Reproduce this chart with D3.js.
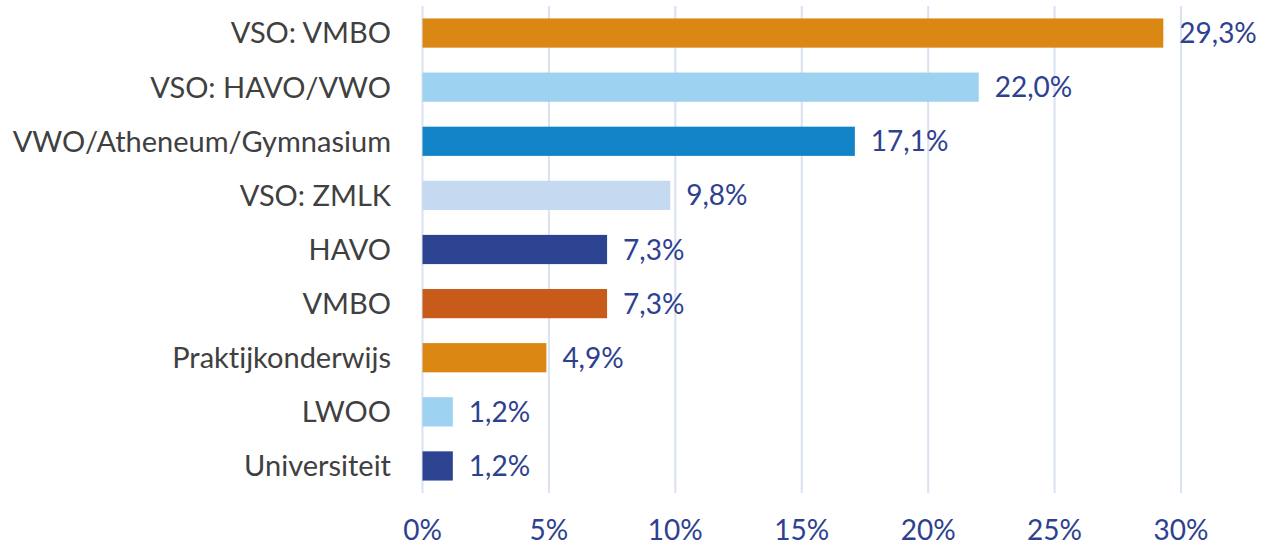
<!DOCTYPE html>
<html><head><meta charset="utf-8">
<script src="https://cdn.jsdelivr.net/npm/d3@7"></script>
<style>body{margin:0;background:#fff}svg{display:block}text{font-variant-ligatures:none;font-feature-settings:"liga" 0}</style>
</head><body>
<svg id="c" width="1273" height="546"></svg>
<script>
const categories = ["VSO: VMBO","VSO: HAVO/VWO","VWO/Atheneum/Gymnasium","VSO: ZMLK","HAVO","VMBO","Praktijkonderwijs","LWOO","Universiteit"];
const values = [29.3, 22.0, 17.1, 9.8, 7.3, 7.3, 4.9, 1.2, 1.2];
const colors = ["#db8713","#9dd3f0","#1283c6","#c5d9f0","#2c4392","#c95b1a","#db8713","#9dd3f0","#2c4392"];
const ticks = [0,5,10,15,20,25,30];

const svg = d3.select("#c");
const x = d3.scaleLinear().domain([0,30]).range([422.5,1181]);
const y = d3.scaleBand().domain(categories).range([6,493]).paddingInner(0.46).paddingOuter(0.23);
const font = "Lato, 'Open Sans', sans-serif";
const fs = 28;

svg.append("g").selectAll("line").data(ticks).join("line")
  .attr("x1",d=>x(d)).attr("x2",d=>x(d)).attr("y1",6).attr("y2",493)
  .attr("stroke","#d9e1f2").attr("stroke-width",2);

svg.append("g").selectAll("rect").data(values).join("rect")
  .attr("x",x(0)).attr("y",(d,i)=>y(categories[i]))
  .attr("width",d=>x(d)-x(0)).attr("height",y.bandwidth())
  .attr("fill",(d,i)=>colors[i]);

svg.append("g").selectAll("text").data(categories).join("text")
  .attr("x",391).attr("y",d=>y(d)+y.bandwidth()/2).attr("dy","0.36em")
  .attr("text-anchor","end").attr("font-family",font).attr("font-size",29)
  .attr("fill","#404040").text(d=>d);

svg.append("g").selectAll("text").data(values).join("text")
  .attr("x",d=>x(d)+16).attr("y",(d,i)=>y(categories[i])+y.bandwidth()/2).attr("dy","0.36em")
  .attr("font-family",font).attr("font-size",fs).attr("fill","#2e4190")
  .text(d=>d.toFixed(1).replace(".",",")+"%");

svg.append("g").selectAll("text").data(ticks).join("text")
  .attr("x",d=>x(d)).attr("y",530).attr("dy","0.36em").attr("text-anchor","middle")
  .attr("font-family",font).attr("font-size",fs).attr("fill","#2e4190")
  .text(d=>d+"%");
</script>
</body></html>
